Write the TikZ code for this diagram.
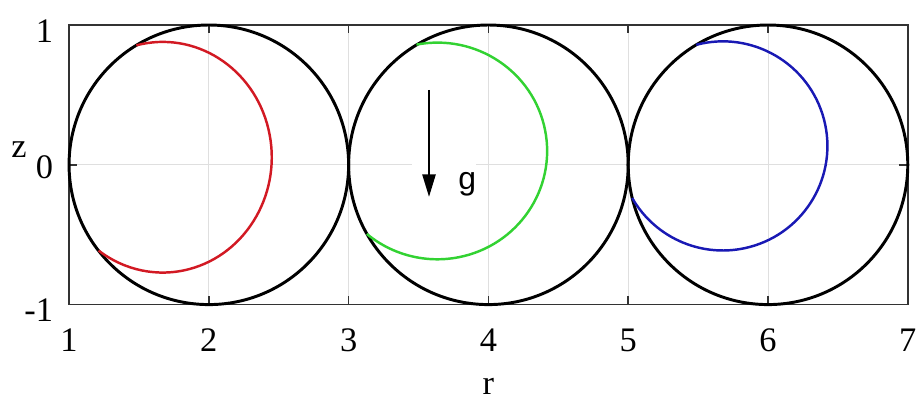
\documentclass[tikz,border=0pt]{standalone}
\usepackage{fontspec}
\setmainfont{Liberation Serif}
\newfontfamily\gfont{Liberation Sans}
\usetikzlibrary{arrows.meta}
\definecolor{redcurve}{RGB}{210,25,35}
\definecolor{greencurve}{RGB}{50,210,50}
\definecolor{bluecurve}{RGB}{25,25,180}
\begin{document}
\begin{tikzpicture}[x=1cm,y=1cm,font=\fontsize{7}{8}\selectfont,
  gridline/.style={gray!25,line width=0.2pt},
  frame/.style={black!80,line width=0.3pt},
  vessel/.style={black,line width=0.6pt},
  bubble/.style={line width=0.5pt},
  ticklabel/.style={inner sep=0pt}]
  \useasboundingbox (0.506,-1.65) rectangle (7.059,1.179);
  % grid and frame
  \foreach \r in {2,...,6}
    \draw[gridline] (\r,-1) -- (\r,1);
  \draw[gridline] (1,0) -- (7,0);
  \draw[frame] (1,-1) rectangle (7,1);
  \foreach \r in {1,...,7} {
    \draw[frame] (\r,-1) -- (\r,-0.94) (\r,1) -- (\r,0.94);
    \node[ticklabel] (rtick\r) at (\r,-1.257) {\r};
  }
  \draw[frame] (1,0) -- (1.06,0) (7,0) -- (6.94,0);
  \node[ticklabel,anchor=east] (ztop) at (0.893,0.957) {1};
  \node[ticklabel,anchor=east] (zmid) at (0.893,-0.021) {0};
  \node[ticklabel,anchor=east] (zbot) at (0.893,-1.043) {-1};
  \node[ticklabel] (zlabel) at (0.642,0.107) {z};
  \node[ticklabel] (rlabel) at (4,-1.586) {r};
  % vessels
  \foreach \r in {2,4,6}
    \draw[vessel] (\r,0) circle (1);
  % bubbles
  \draw[bubble,redcurve,shift={(1.67,0.054)}] (104:0.78 and 0.825)
    arc[start angle=104,end angle=-126,x radius=0.78,y radius=0.825];
  \draw[bubble,greencurve,shift={(3.635,0.099)}] (101:0.785 and 0.775)
    arc[start angle=101,end angle=-130,x radius=0.785,y radius=0.775];
  \draw[bubble,bluecurve,shift={(5.677,0.135)}] (104.7:0.748)
    arc[start angle=104.7,end angle=-150.1,radius=0.748];
  % gravity
  \node[fill=white,inner xsep=0pt,inner ysep=0.1cm,text width=0.46cm,align=right,
    anchor=base east,font=\gfont\fontsize{6.5}{7}\selectfont] (glabel) at (3.92,-0.179) {g};
  \coordinate (gtail) at (3.575,0.536);
  \coordinate (ghead) at (3.575,-0.229);
  \draw[-{Triangle[length=0.16cm,width=0.095cm]},line width=0.3pt] (gtail) -- (ghead);
\end{tikzpicture}
\end{document}
